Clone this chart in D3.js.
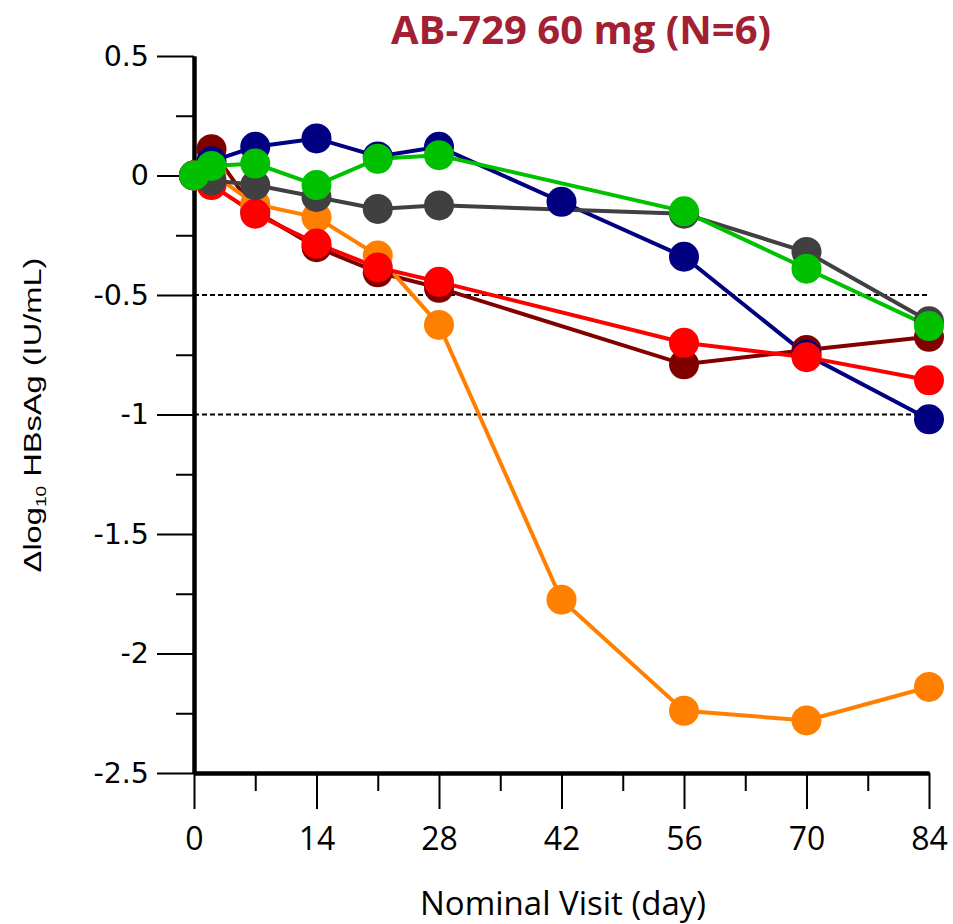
<!DOCTYPE html>
<html>
<head>
<meta charset="utf-8">
<script src="https://cdn.jsdelivr.net/npm/d3@7"></script>
<style>
  body { margin: 0; background: #fff; }
</style>
</head>
<body>
<div class="container"></div>
<script>
// nominal visit days
const days = [0, 2, 7, 14, 21, 28, 42, 56, 70, 84];

// change from baseline per subject (null = no visit)
const darkRedVals = [0, 0.11, -0.15, -0.30, -0.405, -0.47, null, -0.79, -0.73, -0.675];
const orangeVals  = [0, 0.01, -0.12, -0.175, -0.335, -0.625, -1.775, -2.24, -2.28, -2.14];
const navyVals    = [0, 0.06, 0.12, 0.155, 0.08, 0.12, -0.11, -0.34, -0.75, -1.02];
const redVals     = [0, -0.04, -0.16, -0.285, -0.385, -0.445, null, -0.70, -0.76, -0.857];
const grayVals    = [0, -0.02, -0.04, -0.09, -0.14, -0.125, null, -0.16, -0.32, -0.61];
const greenVals   = [0, 0.04, 0.05, -0.04, 0.07, 0.085, null, -0.15, -0.39, -0.63];

const seriesColors = ["#800000", "#ff8000", "#000080", "#ff0000", "#404040", "#00c000"];
const seriesVals = [darkRedVals, orangeVals, navyVals, redVals, grayVals, greenVals];

const xMajor = [0, 14, 28, 42, 56, 70, 84];
const xMinor = [7, 21, 35, 49, 63, 77];
const yMajor = [0.5, 0, -0.5, -1, -1.5, -2, -2.5];
const yMinor = [0.25, -0.25, -0.75, -1.25, -1.75, -2.25];
const refLines = [-0.5, -1];

const titleText = "AB-729 60 mg (N=6)";

const svg = d3.select(".container").append("svg")
  .attr("width", 953)
  .attr("height", 924);

//scales
const x = d3.scaleLinear().domain([0, 84]).range([194, 929]);
const y = d3.scaleLinear().domain([-2.5, 0.5]).range([773, 56]);

//reference dashed lines
svg.selectAll(".ref")
  .data(refLines)
  .enter()
  .append("line")
  .attr("x1", x(0))
  .attr("x2", x(84))
  .attr("y1", d => y(d))
  .attr("y2", d => y(d))
  .attr("stroke", "#000")
  .attr("stroke-width", 2)
  .attr("stroke-dasharray", "5,3");

//axes
const yMinorAxis = svg.append("g")
  .attr("transform", `translate(${x(0)},0)`)
  .call(d3.axisLeft(y).tickValues(yMinor).tickSize(18).tickSizeOuter(0).tickFormat(""));
const yAxis = svg.append("g")
  .attr("transform", `translate(${x(0)},0)`)
  .call(d3.axisLeft(y).tickValues(yMajor).tickSize(37).tickSizeOuter(0).tickPadding(8)
    .tickFormat(d => String(d)));

const xMinorAxis = svg.append("g")
  .attr("transform", `translate(0,${y(-2.5)})`)
  .call(d3.axisBottom(x).tickValues(xMinor).tickSize(18).tickSizeOuter(0).tickFormat(""));
const xAxis = svg.append("g")
  .attr("transform", `translate(0,${y(-2.5)})`)
  .call(d3.axisBottom(x).tickValues(xMajor).tickSize(36).tickSizeOuter(0).tickPadding(18));

[yMinorAxis, yAxis, xMinorAxis, xAxis].forEach(g => {
  g.selectAll(".tick line").attr("stroke", "#000").attr("stroke-width", 2);
  g.select(".domain").attr("stroke", "#000").attr("stroke-width", 4);
});

yAxis.selectAll("text")
  .attr("fill", "#000")
  .style("font-family", "'DejaVu Sans', sans-serif")
  .style("font-size", "28.5px");
xAxis.selectAll("text")
  .attr("fill", "#000")
  .style("font-family", "'Open Sans', sans-serif")
  .style("font-size", "32px");

//series: lines first, then markers on top
const line = d3.line()
  .x(d => x(d.day))
  .y(d => y(d.v));

const seriesPts = seriesVals.map(vals =>
  days.map((day, j) => ({day: day, v: vals[j]})).filter(d => d.v != null));

const lineLayer = svg.append("g");
const dotLayer = svg.append("g");

seriesPts.forEach((pts, i) => {
  lineLayer.append("path")
    .datum(pts)
    .attr("d", line)
    .attr("fill", "none")
    .attr("stroke", seriesColors[i])
    .attr("stroke-width", 4);
  dotLayer.append("g").selectAll("circle")
    .data(pts)
    .enter()
    .append("circle")
    .attr("cx", d => x(d.day))
    .attr("cy", d => y(d.v))
    .attr("r", 15)
    .attr("fill", seriesColors[i]);
});

//title
svg.append("text")
  .attr("x", 581)
  .attr("y", 44)
  .attr("text-anchor", "middle")
  .attr("fill", "#a31f34")
  .style("font-family", "'Open Sans', sans-serif")
  .style("font-weight", "bold")
  .style("font-size", "40px")
  .text(titleText);

//axis titles
svg.append("text")
  .attr("x", 563)
  .attr("y", 915)
  .attr("text-anchor", "middle")
  .attr("fill", "#000")
  .style("font-family", "'Open Sans', sans-serif")
  .style("font-size", "33px")
  .text("Nominal Visit (day)");

const yLabel = svg.append("text")
  .attr("transform", "translate(41,415) rotate(-90) scale(1.36,1)")
  .attr("text-anchor", "middle")
  .attr("fill", "#000")
  .style("font-family", "'Liberation Sans', Arial, sans-serif")
  .style("font-size", "24px");
yLabel.append("tspan").text("Δlog");
yLabel.append("tspan").attr("dy", 5).style("font-size", "14px").text("10");
yLabel.append("tspan").attr("dy", -5).text(" HBsAg (IU/mL)");
</script>
</body>
</html>
